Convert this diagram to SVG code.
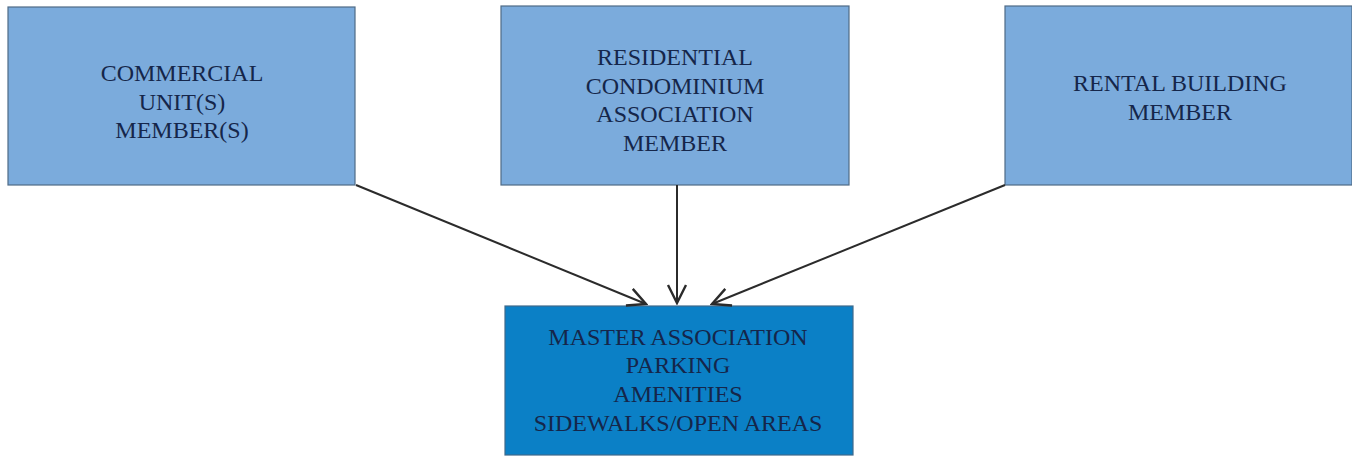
<svg xmlns="http://www.w3.org/2000/svg" width="1352" height="456" viewBox="0 0 1352 456">
<defs>
<marker id="arr" viewBox="0 0 22 22" refX="20" refY="11" markerWidth="22" markerHeight="22" markerUnits="userSpaceOnUse" orient="auto">
<path d="M2,2 L20,11 L2,20" fill="none" stroke="#2b2b2b" stroke-width="2.4"/>
</marker>
<style>
.box{fill:#7babdc;stroke:#4f6b86;stroke-width:1.2}
.main{fill:#0b80c6;stroke:#3f6a8c;stroke-width:1.2}
.t{font-family:"Liberation Serif","Times New Roman",serif;font-size:24px;fill:#15264a;text-anchor:middle}
.c{stroke:#2b2b2b;stroke-width:2;fill:none;marker-end:url(#arr)}
</style>
</defs>
<rect width="1352" height="456" fill="#ffffff"/>
<g id="commercial">
<rect class="box" x="8" y="7" width="347" height="178"/>
<text class="t" x="182" y="81">COMMERCIAL</text>
<text class="t" x="182" y="110">UNIT(S)</text>
<text class="t" x="182" y="138">MEMBER(S)</text>
</g>
<g id="residential">
<rect class="box" x="501" y="6" width="348" height="179"/>
<text class="t" x="675" y="65">RESIDENTIAL</text>
<text class="t" x="675" y="94">CONDOMINIUM</text>
<text class="t" x="675" y="122">ASSOCIATION</text>
<text class="t" x="675" y="151">MEMBER</text>
</g>
<g id="rental">
<rect class="box" x="1005" y="6" width="347" height="179"/>
<text class="t" x="1180" y="91">RENTAL BUILDING</text>
<text class="t" x="1180" y="120">MEMBER</text>
</g>
<g id="master">
<rect class="main" x="505" y="306" width="348" height="149"/>
<text class="t" x="678" y="345">MASTER ASSOCIATION</text>
<text class="t" x="678" y="373">PARKING</text>
<text class="t" x="678" y="402">AMENITIES</text>
<text class="t" x="678" y="431">SIDEWALKS/OPEN AREAS</text>
</g>
<g id="connectors">
<line class="c" x1="356" y1="185" x2="646" y2="304"/>
<line class="c" x1="677" y1="185" x2="677" y2="303"/>
<line class="c" x1="1005" y1="185" x2="712" y2="304"/>
</g>
</svg>
